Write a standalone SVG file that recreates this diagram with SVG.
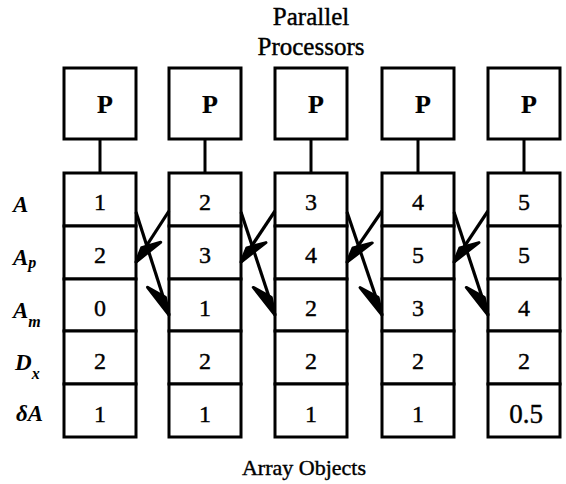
<svg xmlns="http://www.w3.org/2000/svg" width="566" height="484" viewBox="0 0 566 484" font-family="'Liberation Serif', 'DejaVu Serif', 'Times New Roman', serif">
  <style>
    text { fill: #000; stroke: #000; stroke-width: 0.4; }
    .title { font-size: 25px; text-anchor: middle; }
    .caption { font-size: 22px; text-anchor: middle; }
    .proc rect, .cell { fill: #fff; stroke: #000; stroke-width: 3; }
    .proc text { font-size: 26px; font-weight: bold; stroke-width: 0.2; }
    .val { font-size: 24px; text-anchor: middle; }
    .wide { font-size: 27px; }
    .lbl { font-size: 23px; font-style: italic; font-weight: bold; stroke-width: 0; }
    .sub { font-size: 16px; }
    .stem { stroke: #000; stroke-width: 3; fill: none; }
    .arrow { stroke: #000; stroke-width: 3.2; fill: none; }
    .head { fill: #000; stroke: #000; stroke-width: 3; stroke-linejoin: round; }
  </style>
  <defs>
    <!-- single-barbed arrowheads; tip sits on the path end -->
    <marker id="barb-down" markerUnits="userSpaceOnUse" orient="auto" refX="0" refY="0" overflow="visible">
      <polygon class="head" points="0,0 -33,12 -18,-2"/>
    </marker>
    <marker id="barb-up" markerUnits="userSpaceOnUse" orient="auto" refX="0" refY="0" overflow="visible">
      <polygon class="head" points="0,0 -30,-10 -15,3"/>
    </marker>
  </defs>

  <!-- headings -->
  <text class="title" x="311" y="25">Parallel</text>
  <text class="title" x="311" y="55">Processors</text>
  <text class="caption" x="304" y="475">Array Objects</text>

  <!-- row labels -->
  <g id="row-labels">
    <text class="lbl" x="13" y="212">A</text>
    <text class="lbl" x="13" y="265">A<tspan class="sub" dy="3">p</tspan></text>
    <text class="lbl" x="13" y="318">A<tspan class="sub" dy="9">m</tspan></text>
    <text class="lbl" x="15" y="370">D<tspan class="sub" dy="9">x</tspan></text>
    <text class="lbl" x="16" y="421">δA</text>
  </g>

  <!-- processors -->
  <g id="proc-1" class="proc"><rect x="64" y="68" width="72" height="71"/><text x="97" y="113">P</text></g>
  <g id="proc-2" class="proc"><rect x="169" y="68" width="72" height="71"/><text x="202" y="113">P</text></g>
  <g id="proc-3" class="proc"><rect x="275" y="68" width="72" height="71"/><text x="308" y="113">P</text></g>
  <g id="proc-4" class="proc"><rect x="382" y="68" width="72" height="71"/><text x="415" y="113">P</text></g>
  <g id="proc-5" class="proc"><rect x="488" y="68" width="72" height="71"/><text x="521" y="113">P</text></g>

  <!-- array objects: rows A, Ap, Am, Dx, dA -->
  <g id="array-1">
    <rect class="cell" x="64" y="173" width="72" height="53"/>
    <rect class="cell" x="64" y="226" width="72" height="53"/>
    <rect class="cell" x="64" y="279" width="72" height="52"/>
    <rect class="cell" x="64" y="331" width="72" height="53"/>
    <rect class="cell" x="64" y="384" width="72" height="53"/>
    <text class="val" x="100" y="210">1</text>
    <text class="val" x="100" y="263">2</text>
    <text class="val" x="100" y="316">0</text>
    <text class="val" x="100" y="369">2</text>
    <text class="val" x="100" y="422">1</text>
  </g>
  <g id="array-2">
    <rect class="cell" x="169" y="173" width="72" height="53"/>
    <rect class="cell" x="169" y="226" width="72" height="53"/>
    <rect class="cell" x="169" y="279" width="72" height="52"/>
    <rect class="cell" x="169" y="331" width="72" height="53"/>
    <rect class="cell" x="169" y="384" width="72" height="53"/>
    <text class="val" x="205" y="210">2</text>
    <text class="val" x="205" y="263">3</text>
    <text class="val" x="205" y="316">1</text>
    <text class="val" x="205" y="369">2</text>
    <text class="val" x="205" y="422">1</text>
  </g>
  <g id="array-3">
    <rect class="cell" x="275" y="173" width="72" height="53"/>
    <rect class="cell" x="275" y="226" width="72" height="53"/>
    <rect class="cell" x="275" y="279" width="72" height="52"/>
    <rect class="cell" x="275" y="331" width="72" height="53"/>
    <rect class="cell" x="275" y="384" width="72" height="53"/>
    <text class="val" x="311" y="210">3</text>
    <text class="val" x="311" y="263">4</text>
    <text class="val" x="311" y="316">2</text>
    <text class="val" x="311" y="369">2</text>
    <text class="val" x="311" y="422">1</text>
  </g>
  <g id="array-4">
    <rect class="cell" x="382" y="173" width="72" height="53"/>
    <rect class="cell" x="382" y="226" width="72" height="53"/>
    <rect class="cell" x="382" y="279" width="72" height="52"/>
    <rect class="cell" x="382" y="331" width="72" height="53"/>
    <rect class="cell" x="382" y="384" width="72" height="53"/>
    <text class="val" x="418" y="210">4</text>
    <text class="val" x="418" y="263">5</text>
    <text class="val" x="418" y="316">3</text>
    <text class="val" x="418" y="369">2</text>
    <text class="val" x="418" y="422">1</text>
  </g>
  <g id="array-5">
    <rect class="cell" x="488" y="173" width="72" height="53"/>
    <rect class="cell" x="488" y="226" width="72" height="53"/>
    <rect class="cell" x="488" y="279" width="72" height="52"/>
    <rect class="cell" x="488" y="331" width="72" height="53"/>
    <rect class="cell" x="488" y="384" width="72" height="53"/>
    <text class="val" x="524" y="210">5</text>
    <text class="val" x="524" y="263">5</text>
    <text class="val" x="524" y="316">4</text>
    <text class="val" x="524" y="369">2</text>
    <text class="val wide" x="526" y="423">0.5</text>
  </g>

  <!-- connectors: processor stems and neighbour exchanges -->
  <g id="connectors">
    <line class="stem" x1="100" y1="139" x2="100" y2="173"/>
    <line class="stem" x1="205" y1="139" x2="205" y2="173"/>
    <line class="stem" x1="311" y1="139" x2="311" y2="173"/>
    <line class="stem" x1="418" y1="139" x2="418" y2="173"/>
    <line class="stem" x1="524" y1="139" x2="524" y2="173"/>

    <path class="arrow" d="M169,211 L136,262" marker-end="url(#barb-up)"/>
    <path class="arrow" d="M136,212 L169,315" marker-end="url(#barb-down)"/>
    <path class="arrow" d="M275,211 L241,262" marker-end="url(#barb-up)"/>
    <path class="arrow" d="M241,212 L275,315" marker-end="url(#barb-down)"/>
    <path class="arrow" d="M382,211 L347,262" marker-end="url(#barb-up)"/>
    <path class="arrow" d="M347,212 L382,315" marker-end="url(#barb-down)"/>
    <path class="arrow" d="M488,211 L454,262" marker-end="url(#barb-up)"/>
    <path class="arrow" d="M454,212 L488,315" marker-end="url(#barb-down)"/>
  </g>
</svg>
